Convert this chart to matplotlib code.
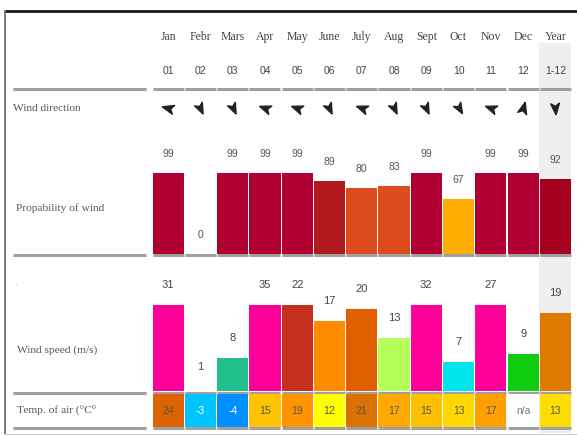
import matplotlib
matplotlib.use('Agg')
import matplotlib.pyplot as plt
from matplotlib.patches import Rectangle
import numpy as np

# column headers
months = ['Jan', 'Febr', 'Mars', 'Apr', 'May', 'June', 'July', 'Aug', 'Sept', 'Oct', 'Nov', 'Dec', 'Year']
month_nums = ['01', '02', '03', '04', '05', '06', '07', '08', '09', '10', '11', '12', '1-12']

# arrow heading per month (degrees, counter-clockwise from east)
wind_dir = [165, -65, -65, 160, 160, -65, 160, -65, -65, -60, 160, 75, -85]

# probability of wind (%)
prob_wind = [99, 0, 99, 99, 99, 89, 80, 83, 99, 67, 99, 99, 92]
prob_colors = ['#b30033', '#ffffff', '#b30033', '#b30033', '#b30033', '#b0191e', '#de4b1c',
               '#de4b1c', '#b30033', '#ffac00', '#b30033', '#b30033', '#a5001f']

# wind speed (m/s)
wind_speed = [31, 1, 8, 35, 22, 17, 20, 13, 32, 7, 27, 9, 19]
speed_colors = ['#ff0099', '#ffffff', '#22c08c', '#ff0099', '#c62f1f', '#ff8c00', '#e06000',
                '#b5ff5a', '#ff0099', '#00e4ee', '#ff0099', '#10cc10', '#e07a00']

# air temperature
air_temp = ['24', '-3', '-4', '15', '19', '12', '21', '17', '15', '13', '17', 'n/a', '13']
temp_colors = ['#dd6300', '#00c4ff', '#008fff', '#ffc400', '#ff9400', '#ffff00', '#d97200',
               '#ffa800', '#ffc000', '#ffd800', '#ffa000', '#ffffff', '#ffdd00']

W, H = 577, 436
COL_X0, COL_W = 152, 419.5 / 13
SERIF = 'Liberation Serif'
NARROW = 'Liberation Sans'

fig = plt.figure(figsize=(W / 100, H / 100), dpi=100)


def px_axes(x0, y0, x1, y1):
    ax = fig.add_axes([x0 / W, 1 - y1 / H, (x1 - x0) / W, (y1 - y0) / H])
    ax.set_facecolor('none')
    ax.axis('off')
    return ax


# background / decoration layer in pixel units
bg = px_axes(0, 0, W, H)
bg.set_xlim(0, W)
bg.set_ylim(H, 0)

n = len(months)
centers = COL_X0 + COL_W * (np.arange(n) + 0.5)

# year column shading
bg.add_patch(Rectangle((COL_X0 + 12 * COL_W, 43), COL_W, 390, color='#efefef', zorder=0, lw=0))

# frame
bg.plot([5, W], [11, 11], color='#1a1a1a', lw=2.0, solid_capstyle='butt')
bg.plot([5, 5], [11, 433], color='#7a7a7a', lw=1.4)
bg.plot([5, W], [433.5, 433.5], color='#d0d0d0', lw=0.8)

# row separators
for y in [89, 255, 392.5, 428]:
    bg.plot([13, 146], [y, y], color='#a0a0a0', lw=2.2, solid_capstyle='butt', zorder=3)
    for i in range(n):
        bg.plot([COL_X0 + i * COL_W + 0.6, COL_X0 + (i + 1) * COL_W - 0.6], [y, y],
                color='#a0a0a0', lw=2.2, solid_capstyle='butt', zorder=3)

# headers
for i in range(n):
    bg.text(centers[i], 37, months[i], family=SERIF, fontsize=8.5, color='#444444',
            ha='center', va='center')
    bg.text(centers[i], 71, month_nums[i], family=NARROW, fontsize=7.5, color='#444444',
            ha='center', va='center')

# row labels
bg.text(13, 108, 'Wind direction', family=SERIF, fontsize=8.2, color='#555555', va='center')
bg.text(16, 208, 'Propability of wind', family=SERIF, fontsize=8.2, color='#555555', va='center')
bg.text(15, 283, '.', family=SERIF, fontsize=6, color='#888888', va='center')
bg.text(17, 350, 'Wind speed (m/s)', family=SERIF, fontsize=8.2, color='#555555', va='center')
bg.text(17, 411, 'Temp. of air (°C°', family=SERIF, fontsize=8.2, color='#555555', va='center')

# wind direction arrows
arrow = np.array([[1.0, 0.0], [-0.8, 0.7], [-0.35, 0.0], [-0.8, -0.7], [1.0, 0.0]])
for i, deg in enumerate(wind_dir):
    a = np.radians(deg)
    rot = np.array([[np.cos(a), -np.sin(a)], [np.sin(a), np.cos(a)]])
    verts = arrow @ rot.T
    bg.plot(centers[i], 108, marker=verts, markersize=9, color='#222222', lw=0)

x = np.arange(n)

# probability bars
ax_p = px_axes(COL_X0, 172, COL_X0 + 13 * COL_W, 254)
ax_p.set_xlim(-0.5, n - 0.5)
ax_p.set_ylim(0, 100)
ax_p.bar(x, prob_wind, width=0.965, color=prob_colors)
for i, v in enumerate(prob_wind):
    ax_p.annotate(str(v), (i, v), xytext=(0, 19), textcoords='offset pixels',
                  ha='center', va='center', family=NARROW, fontsize=7.5, color='#555555',
                  annotation_clip=False)

# wind speed bars (capped at the top of the row)
speed_max = 21
ax_s = px_axes(COL_X0, 305, COL_X0 + 13 * COL_W, 391)
ax_s.set_xlim(-0.5, n - 0.5)
ax_s.set_ylim(0, speed_max)
ax_s.bar(x, wind_speed, width=0.965, color=speed_colors)
for i, v in enumerate(wind_speed):
    ax_s.annotate(str(v), (i, min(v, speed_max)), xytext=(0, 20), textcoords='offset pixels',
                  ha='center', va='center', family=NARROW, fontsize=8, color='#444444',
                  annotation_clip=False)

# air temperature cells
ax_t = px_axes(COL_X0, 394, COL_X0 + 13 * COL_W, 427)
ax_t.set_xlim(-0.5, n - 0.5)
ax_t.set_ylim(0, 1)
ax_t.bar(x, [1] * n, width=0.965, color=temp_colors)
for i, t in enumerate(air_temp):
    tc = '#ffffff' if t.startswith('-') else ('#777777' if t == 'n/a' else '#555555')
    ax_t.text(i, 0.5, t, ha='center', va='center', family=NARROW, fontsize=7.5, color=tc)

fig.savefig('out.png', dpi=100)
